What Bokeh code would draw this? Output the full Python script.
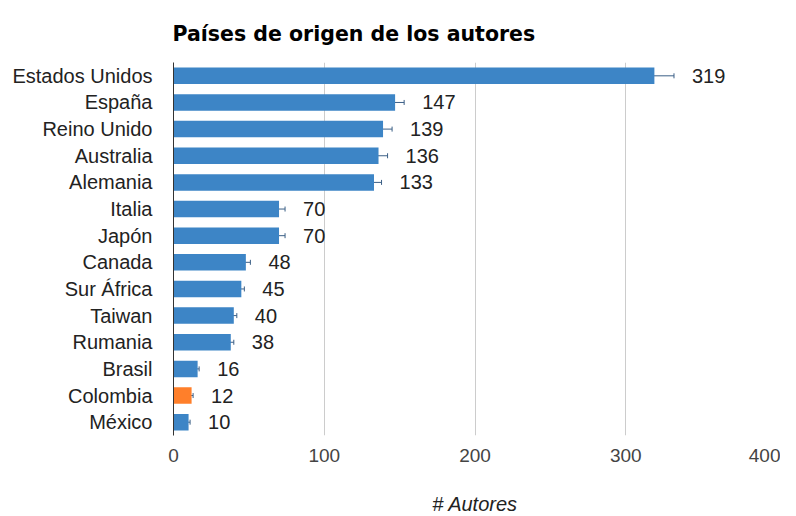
from bokeh.plotting import figure
from bokeh.models import ColumnDataSource, FactorRange, Range1d, Whisker, TeeHead, FixedTicker, LabelSet
from bokeh.core.properties import value
from bokeh.embed import file_html
from bokeh.resources import INLINE

title_text = "Países de origen de los autores"
countries = ["Estados Unidos", "España", "Reino Unido", "Australia", "Alemania", "Italia",
             "Japón", "Canada", "Sur África", "Taiwan", "Rumania", "Brasil", "Colombia", "México"]
authors = [319, 147, 139, 136, 133, 70, 70, 48, 45, 40, 38, 16, 12, 10]
errors = [13, 6, 6, 6, 5, 4, 4, 3, 2, 2, 2, 1, 1, 1]
colors = ["#3d85c6"] * 12 + ["#ff7f2a", "#3d85c6"]
x_ticks = [0, 100, 200, 300, 400]

src = ColumnDataSource(dict(
    country=countries, n=authors,
    lo=[a - e for a, e in zip(authors, errors)],
    hi=[a + e for a, e in zip(authors, errors)],
    lab=[str(a) for a in authors],
    color=colors,
))

p = figure(width=780, height=506, output_backend="svg", toolbar_location=None,
           y_range=FactorRange(factors=countries[::-1]), x_range=Range1d(0, 400),
           min_border_left=173, min_border_right=4, min_border_top=62, min_border_bottom=71,
           frame_width=603, frame_height=373,
           title=title_text)
p.outline_line_color = None
p.title.text_font = "DejaVu Sans"
p.title.text_font_style = "bold"
p.title.text_font_size = "20.5px"
p.title.text_color = "#000000"
p.title.align = "left"
p.title.offset = -1
p.title.standoff = 33

p.hbar(y="country", right="n", left=0, height=0.62, color="color", line_color=None, source=src)
p.add_layout(Whisker(base="country", lower="lo", upper="hi", source=src, dimension="width",
                     line_color="#3b5f86", line_width=1,
                     lower_head=TeeHead(size=5, line_color="#3b5f86", line_width=1),
                     upper_head=TeeHead(size=5, line_color="#3b5f86", line_width=1)))
p.add_layout(LabelSet(x="hi", y="country", text="lab", source=src, x_offset=18,
                      text_baseline="middle", text_font=value("Liberation Sans"),
                      text_font_size="20px", text_color="#222222"))

p.xaxis.ticker = FixedTicker(ticks=x_ticks)
p.xgrid.ticker = FixedTicker(ticks=x_ticks)
p.xgrid.grid_line_color = "#cccccc"
p.ygrid.grid_line_color = None
p.xaxis.axis_line_color = None
p.xaxis.major_tick_line_color = None
p.xaxis.minor_tick_line_color = None
p.xaxis.major_label_text_font = "Liberation Sans"
p.xaxis.major_label_text_font_size = "19px"
p.xaxis.major_label_text_color = "#444444"
p.xaxis.major_label_standoff = 7
p.xaxis.axis_label = "# Autores"
p.xaxis.axis_label_text_font = "Liberation Sans"
p.xaxis.axis_label_text_font_style = "italic"
p.xaxis.axis_label_text_font_size = "20px"
p.xaxis.axis_label_text_color = "#222222"
p.xaxis.axis_label_standoff = 28

p.yaxis.axis_line_color = "#333333"
p.yaxis.axis_line_width = 1
p.yaxis.major_tick_line_color = None
p.yaxis.minor_tick_line_color = None
p.yaxis.major_label_text_font = "Liberation Sans"
p.yaxis.major_label_text_font_size = "20px"
p.yaxis.major_label_text_color = "#222222"
p.yaxis.major_label_standoff = 15

open("out.html", "w").write(file_html(p, INLINE))
